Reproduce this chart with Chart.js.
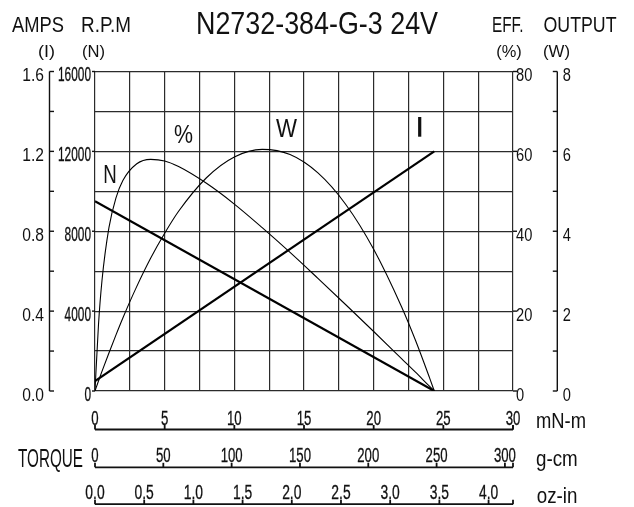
<!DOCTYPE html>
<html>
<head>
<meta charset="utf-8">
<script src="https://cdn.jsdelivr.net/npm/chart.js@4.4.0/dist/chart.umd.min.js"></script>
<style>
  html, body { margin: 0; padding: 0; background: #fff; }
  canvas { display: block; }
</style>
</head>
<body>
<canvas id="motorChart" width="634" height="507"></canvas>
<script>
// curves (torque in mN-m)
const torque     = [0, 0.25, 0.5, 1, 1.5, 2, 3, 4, 5, 6, 8, 10, 12, 14, 16, 18, 20, 22, 23, 24, 24.35];
const efficiency = [0, 16.6, 27.6, 40.9, 48.3, 52.7, 56.9, 58.0, 57.6, 56.2, 52.0, 46.8, 40.9, 34.7, 28.2, 21.6, 14.9, 8.1, 4.7, 1.2, 0];
const outputW    = [0, 0.25, 0.49, 0.95, 1.40, 1.83, 2.62, 3.33, 3.95, 4.50, 5.34, 5.86, 6.05, 5.92, 5.46, 4.67, 3.55, 2.11, 1.27, 0.34, 0];
const lineTorque = [0, 24.35];
const speedRpm   = [9500, 0];
const currentA   = [0.05, 1.2];

// axis ticks
const ampsTicks   = [0, 0.4, 0.8, 1.2, 1.6];
const ampsMinor   = [0, 0.2, 0.4, 0.6, 0.8, 1.0, 1.2, 1.4, 1.6];
const rpmTicks    = [0, 4000, 8000, 12000, 16000];
const effTicks    = [0, 20, 40, 60, 80];
const outputTicks = [0, 2, 4, 6, 8];
const outputMinor = [0, 1, 2, 3, 4, 5, 6, 7, 8];
const mnmTicks    = [0, 5, 10, 15, 20, 25, 30];
const gcmTicks    = [0, 50, 100, 150, 200, 250, 300];
const ozinTicks   = [0, 0.5, 1.0, 1.5, 2.0, 2.5, 3.0, 3.5, 4.0];

const GCM_TO_MNM = 0.0980665;
const OZIN_TO_MNM = 7.0616;
const FONT = '"Liberation Sans Narrow", "Liberation Sans", Arial, sans-serif';
const INK = '#111';

function pts(xs, ys) {
  return xs.map((x, i) => ({ x: x, y: ys[i] }));
}

function seg(ctx, x1, y1, x2, y2) {
  ctx.beginPath();
  ctx.moveTo(x1, y1);
  ctx.lineTo(x2, y2);
  ctx.stroke();
}

function fitScale(ctx, s, size, w) {
  ctx.font = size + 'px ' + FONT;
  return w / ctx.measureText(s).width;
}

// condensed text: width squeezed by sx (or fitted to w)
function txt(ctx, s, x, y, size, o) {
  ctx.save();
  ctx.font = size + 'px ' + FONT;
  const m = ctx.measureText(s).width;
  const sx = o.w ? o.w / m : (o.sx || 1);
  const w = m * sx;
  let left = x;
  if (o.align === 'center') left = x - w / 2;
  else if (o.align === 'right') left = x - w;
  ctx.translate(left, y);
  ctx.scale(sx, 1);
  ctx.textAlign = 'left';
  ctx.textBaseline = 'alphabetic';
  ctx.fillStyle = INK;
  ctx.fillText(s, 0, 0);
  if (o.heavy) {
    // squeezed glyphs get thin stems, thicken them a little
    ctx.strokeStyle = INK;
    ctx.lineWidth = o.heavy;
    ctx.strokeText(s, 0, 0);
  }
  ctx.restore();
}

const decorations = {
  id: 'decorations',
  afterDraw(chart) {
    const ctx = chart.ctx;
    const sx = chart.scales.x, yN = chart.scales.yN, yI = chart.scales.yI;
    const yE = chart.scales.yE, yW = chart.scales.yW;
    const a = chart.chartArea;
    ctx.save();
    ctx.strokeStyle = INK;
    ctx.lineWidth = 1.4;

    // headers
    txt(ctx, 'AMPS', 12, 32, 22, { w: 52 });
    txt(ctx, 'R.P.M', 81, 32, 22, { w: 50 });
    txt(ctx, 'N2732-384-G-3 24V', 196, 33.5, 31, { w: 242 });
    txt(ctx, 'EFF.', 492, 32, 22, { w: 31.5 });
    txt(ctx, 'OUTPUT', 543.5, 32, 22, { w: 73 });
    txt(ctx, '(I)', 46.5, 57, 17, { w: 17, align: 'center' });
    txt(ctx, '(N)', 93.5, 57, 17, { w: 23, align: 'center' });
    txt(ctx, '(%)', 509, 57, 17, { w: 25.5, align: 'center' });
    txt(ctx, '(W)', 556.5, 57, 17, { w: 27, align: 'center' });

    // AMPS axis
    const ax = 49.5;
    seg(ctx, ax, yI.getPixelForValue(0), ax, yI.getPixelForValue(1.6));
    ampsMinor.forEach(v => {
      const py = yI.getPixelForValue(v);
      seg(ctx, ax, py, ax + 4.5, py);
    });
    const sxA = fitScale(ctx, '1.6', 18, 21.7);
    ampsTicks.forEach(v => {
      txt(ctx, v.toFixed(1), 44, yI.getPixelForValue(v) + 9.5, 18, { sx: sxA, align: 'right' });
    });

    // RPM labels
    const sxR = fitScale(ctx, '16000', 20.5, 33);
    rpmTicks.forEach(v => {
      const py = yN.getPixelForValue(v);
      seg(ctx, a.left - 3, py, a.left, py);
      txt(ctx, String(v), 91, py + 9.5, 20.5, { sx: sxR, align: 'right', heavy: 0.35 });
    });

    // EFF labels
    const sxE = fitScale(ctx, '80', 18, 16.3);
    effTicks.forEach(v => {
      const py = yE.getPixelForValue(v);
      seg(ctx, a.right, py, a.right + 4, py);
      txt(ctx, String(v), 516, py + 9.5, 18, { sx: sxE });
    });

    // OUTPUT axis
    const ox = 557.3;
    seg(ctx, ox, yW.getPixelForValue(0), ox, yW.getPixelForValue(8));
    outputMinor.forEach(v => {
      const py = yW.getPixelForValue(v);
      seg(ctx, ox - 4.5, py, ox, py);
    });
    outputTicks.forEach(v => {
      txt(ctx, String(v), 562.7, yW.getPixelForValue(v) + 9.5, 18, { sx: sxE });
    });

    // torque axes
    const x0 = sx.getPixelForValue(0), x30 = sx.getPixelForValue(30);
    const rows = [
      { y: 429.5, base: 424.5, ticks: mnmTicks, conv: 1, fmt: v => String(v), ref: '30', w: 14.7 },
      { y: 467.3, base: 461.7, ticks: gcmTicks, conv: GCM_TO_MNM, fmt: v => String(v), ref: '300', w: 22 },
      { y: 504.2, base: 499, ticks: ozinTicks, conv: OZIN_TO_MNM, fmt: v => v.toFixed(1), ref: '0.0', w: 19.3 }
    ];
    rows.forEach(r => {
      ctx.lineWidth = 1.8;
      seg(ctx, x0, r.y, x30, r.y);
      seg(ctx, x30, r.y, x30, r.y - 4.5);
      const k = fitScale(ctx, r.ref, 20.5, r.w);
      r.ticks.forEach(v => {
        const px = sx.getPixelForValue(v * r.conv);
        ctx.lineWidth = 1.8;
        seg(ctx, px, r.y, px, r.y - 4.5);
        txt(ctx, r.fmt(v), px, r.base, 20.5, { sx: k, align: 'center', heavy: 0.3 });
      });
    });
    txt(ctx, 'mN-m', 536, 427.7, 21.5, { w: 50 });
    txt(ctx, 'g-cm', 536, 465.7, 21.5, { w: 41.7 });
    txt(ctx, 'oz-in', 536.7, 502.7, 21.5, { w: 40.7 });
    txt(ctx, 'TORQUE', 18, 467.3, 26, { w: 65 });

    // curve names
    txt(ctx, 'N', 103.3, 182.7, 26.5, { w: 13.5 });
    txt(ctx, '%', 174, 143.3, 26, { w: 19 });
    txt(ctx, 'W', 276, 136.7, 25, { w: 21 });
    ctx.lineWidth = 3.2;
    seg(ctx, 419.7, 117, 419.7, 136.7);
    ctx.restore();
  }
};

const gridStyle = { color: '#2b2b2b', lineWidth: 1.2, drawTicks: false };

new Chart(document.getElementById('motorChart'), {
  type: 'line',
  data: {
    datasets: [
      { label: 'N', data: pts(lineTorque, speedRpm), yAxisID: 'yN', borderColor: '#000', borderWidth: 2.2 },
      { label: 'I', data: pts(lineTorque, currentA), yAxisID: 'yI', borderColor: '#000', borderWidth: 2.2 },
      { label: '%', data: pts(torque, efficiency), yAxisID: 'yE', borderColor: '#000', borderWidth: 1.1, cubicInterpolationMode: 'monotone' },
      { label: 'W', data: pts(torque, outputW), yAxisID: 'yW', borderColor: '#000', borderWidth: 1.1, cubicInterpolationMode: 'monotone' }
    ]
  },
  options: {
    responsive: false,
    animation: false,
    layout: { padding: { left: 95, right: 121, top: 71.5, bottom: 116 } },
    elements: { point: { radius: 0 }, line: { fill: false } },
    plugins: { legend: { display: false }, tooltip: { enabled: false } },
    scales: {
      x: {
        type: 'linear', min: 0, max: 30,
        ticks: { display: false, stepSize: 2.5 },
        grid: gridStyle, border: { display: false },
        afterFit(s) { s.height = 0; }
      },
      yN: {
        type: 'linear', position: 'left', min: 0, max: 16000,
        ticks: { display: false, stepSize: 2000 },
        grid: gridStyle, border: { display: false },
        afterFit(s) { s.width = 0; }
      },
      yI: { type: 'linear', display: false, min: 0, max: 1.6 },
      yE: { type: 'linear', display: false, min: 0, max: 80 },
      yW: { type: 'linear', display: false, min: 0, max: 8 }
    }
  },
  plugins: [decorations]
});
</script>
</body>
</html>
